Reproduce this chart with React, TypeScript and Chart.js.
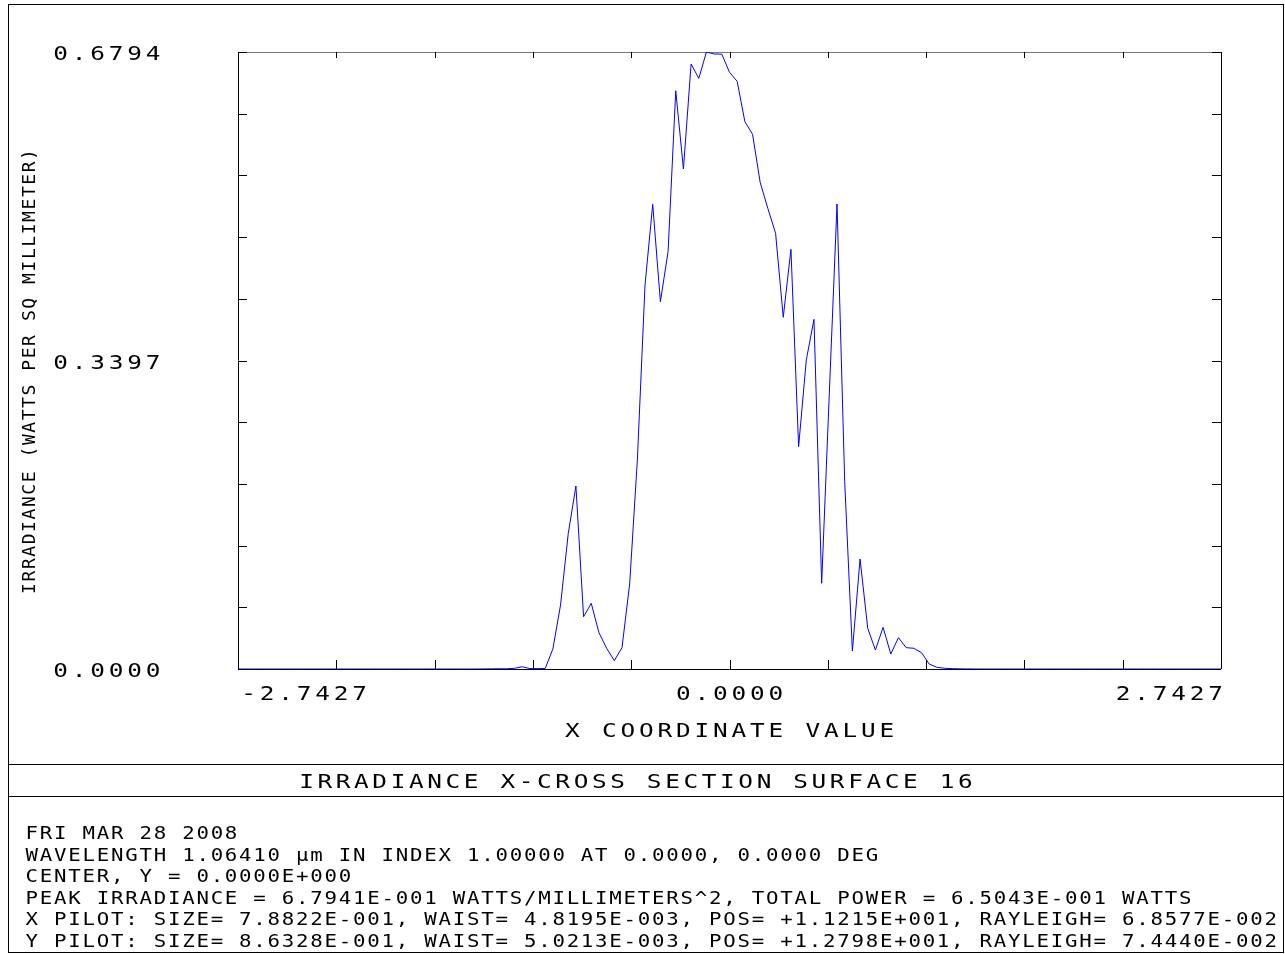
import { useEffect, useRef } from "react";
import { Chart, registerables } from "chart.js";

Chart.register(...registerables);

// X extent of the cross section (mm) and peak irradiance (W/mm^2)
const X_MIN = -2.7427;
const X_MAX = 2.7427;
const Y_MAX = 0.6794;
const DIVISIONS = 10;

// Irradiance samples across the section, 129 evenly spaced points from X_MIN to X_MAX
const irradiance: number[] = [
  0, 0, 0, 0, 0, 0, 0, 0, 0, 0, 0, 0, 0, 0, 0, 0,
  0, 0, 0, 0, 0, 0, 0, 0, 0, 0, 0, 0, 0, 0, 0, 0,
  0.0001, 0.0002, 0.0003, 0.0002, 0.0008, 0.0025, 0.0005, 0.0004,
  0.0006, 0.022, 0.0705, 0.149, 0.2015, 0.0576, 0.0723, 0.04,
  0.0228, 0.0092, 0.0235, 0.0936, 0.23, 0.4228, 0.5117, 0.4045,
  0.4595, 0.6368, 0.5506, 0.6662, 0.6504, 0.6794, 0.6772, 0.677,
  0.657, 0.6471, 0.6027, 0.5888, 0.5355, 0.507, 0.4798, 0.3873,
  0.4621, 0.2448, 0.3403, 0.385, 0.0944, 0.304, 0.512, 0.2063,
  0.0198, 0.1211, 0.0448, 0.0209, 0.0459, 0.0165, 0.0345, 0.0235,
  0.0228, 0.018, 0.0055, 0.0019, 0.0008, 0.0004, 0.0002, 0.0001,
  0, 0, 0, 0, 0, 0, 0, 0, 0, 0, 0, 0, 0, 0, 0, 0,
  0, 0, 0, 0, 0, 0, 0, 0, 0, 0, 0, 0, 0, 0, 0, 0,
  0,
];

const yTickValues = [0, 0.3397, 0.6794];
const yTickLabels = ["0.0000", "0.3397", "0.6794"];
const xTickValues = [-2.7427, 0, 2.7427];
const xTickLabels = ["-2.7427", "0.0000", "2.7427"];

const yAxisTitle = "IRRADIANCE (WATTS PER SQ MILLIMETER)";
const xAxisTitle = "X COORDINATE VALUE";
const plotTitle = "IRRADIANCE X-CROSS SECTION SURFACE 16";
const infoLines = [
  "FRI MAR 28 2008",
  "WAVELENGTH 1.06410 \u03bcm IN INDEX 1.00000 AT 0.0000, 0.0000 DEG",
  "CENTER, Y = 0.0000E+000",
  "PEAK IRRADIANCE = 6.7941E-001 WATTS/MILLIMETERS^2, TOTAL POWER = 6.5043E-001 WATTS",
  "X PILOT: SIZE= 7.8822E-001, WAIST= 4.8195E-003, POS= +1.1215E+001, RAYLEIGH= 6.8577E-002",
  "Y PILOT: SIZE= 8.6328E-001, WAIST= 5.0213E-003, POS= +1.2798E+001, RAYLEIGH= 7.4440E-002",
];

const W = 1285;
const H = 954;
const FONT_FAMILY = '"DejaVu Sans Mono", "Liberation Mono", monospace';

// Fixed-pitch text, one widened glyph per cell (plotter-style lettering)
function drawPitched(
  ctx: CanvasRenderingContext2D,
  text: string,
  x0: number,
  baseline: number,
  adv: number,
  glyphW: number,
  widen = 1.22
) {
  for (let i = 0; i < text.length; i++) {
    ctx.save();
    ctx.translate(x0 + i * adv + glyphW / 2, baseline);
    ctx.scale(widen, 1);
    ctx.fillText(text[i], 0, 0);
    ctx.restore();
  }
}
const pitchedWidth = (text: string, adv: number, glyphW: number) =>
  (text.length - 1) * adv + glyphW;

const framePlugin = {
  id: "plotterFrame",
  beforeDatasetsDraw(chart: any) {
    const ctx: CanvasRenderingContext2D = chart.ctx;
    const { left, top, right, bottom } = chart.chartArea;
    const xs = chart.scales.x;
    const ys = chart.scales.y;
    ctx.save();
    ctx.strokeStyle = "#000";
    ctx.lineWidth = 1;

    // outer sheet border and title band
    ctx.strokeRect(8.5, 4.5, 1275, 948);
    ctx.beginPath();
    ctx.moveTo(8, 764.5);
    ctx.lineTo(1284, 764.5);
    ctx.moveTo(8, 796.5);
    ctx.lineTo(1284, 796.5);
    ctx.stroke();

    // plot box
    ctx.beginPath();
    ctx.moveTo(Math.round(left) + 0.5, top);
    ctx.lineTo(Math.round(left) + 0.5, bottom);
    ctx.moveTo(Math.round(right) + 0.5, top);
    ctx.lineTo(Math.round(right) + 0.5, bottom);
    ctx.moveTo(left, Math.round(bottom) + 0.5);
    ctx.lineTo(right, Math.round(bottom) + 0.5);
    ctx.stroke();
    ctx.strokeStyle = "#777";
    ctx.beginPath();
    ctx.moveTo(left, Math.round(top) + 0.5);
    ctx.lineTo(right, Math.round(top) + 0.5);
    ctx.stroke();

    // inward tick marks on all four sides
    ctx.strokeStyle = "#000";
    ctx.beginPath();
    for (let k = 0; k <= DIVISIONS; k++) {
      const py = Math.round(ys.getPixelForValue((Y_MAX * k) / DIVISIONS)) + 0.5;
      ctx.moveTo(left, py);
      ctx.lineTo(left + 9, py);
      ctx.moveTo(right - 9, py);
      ctx.lineTo(right, py);
      const px =
        Math.round(xs.getPixelForValue(X_MIN + ((X_MAX - X_MIN) * k) / DIVISIONS)) + 0.5;
      ctx.moveTo(px, bottom);
      ctx.lineTo(px, bottom - 9);
      ctx.moveTo(px, top);
      ctx.lineTo(px, top + 6);
    }
    ctx.stroke();
    ctx.restore();
  },
  afterDraw(chart: any) {
    const ctx: CanvasRenderingContext2D = chart.ctx;
    const xs = chart.scales.x;
    const ys = chart.scales.y;
    ctx.save();
    ctx.fillStyle = "#000";
    ctx.textAlign = "center";
    ctx.textBaseline = "alphabetic";

    const bigAdv = 18.5;
    const bigW = 11;
    ctx.font = `20px ${FONT_FAMILY}`;

    // y tick labels
    yTickValues.forEach((v, i) => {
      const py = ys.getPixelForValue(v);
      drawPitched(ctx, yTickLabels[i], 55, py + 8, bigAdv, bigW);
    });

    // x tick labels
    const xBase = 700;
    xTickValues.forEach((v, i) => {
      const px = xs.getPixelForValue(v);
      const label = xTickLabels[i];
      const w = pitchedWidth(label, bigAdv, bigW);
      let x0 = px - w / 2;
      if (i === 0) x0 = px + 5;
      if (i === xTickValues.length - 1) x0 = px - w;
      drawPitched(ctx, label, x0, xBase, bigAdv, bigW);
    });

    // x axis title
    const cx = xs.getPixelForValue(0);
    drawPitched(ctx, xAxisTitle, cx - pitchedWidth(xAxisTitle, bigAdv, bigW) / 2, 737, bigAdv, bigW);

    // plot title in the band
    drawPitched(ctx, plotTitle, 301, 788, 18.3, bigW);

    // y axis title, rotated
    ctx.save();
    ctx.font = `18px ${FONT_FAMILY}`;
    ctx.translate(28, 593);
    ctx.rotate(-Math.PI / 2);
    drawPitched(ctx, yAxisTitle, 0, 6.5, 12.4, 9, 1.0);
    ctx.restore();

    // run information block
    ctx.font = `17px ${FONT_FAMILY}`;
    infoLines.forEach((line, i) => {
      drawPitched(ctx, line, 27, 839 + i * 21.6, 14.24, 9.5);
    });

    ctx.restore();
  },
};

export default function App() {
  const canvasRef = useRef<HTMLCanvasElement | null>(null);

  useEffect(() => {
    const canvas = canvasRef.current;
    if (!canvas) return;
    const step = (X_MAX - X_MIN) / (irradiance.length - 1);
    const points = irradiance.map((v, i) => ({ x: X_MIN + i * step, y: v }));

    const chart = new Chart(canvas, {
      type: "line",
      data: {
        datasets: [
          {
            data: points,
            borderColor: "#0000ff",
            borderWidth: 1,
            pointRadius: 0,
            tension: 0,
            fill: false,
          },
        ],
      },
      options: {
        responsive: false,
        animation: false,
        events: [],
        layout: { padding: { left: 238, top: 52, right: 64, bottom: 285 } },
        scales: {
          x: { type: "linear", min: X_MIN, max: X_MAX, display: false },
          y: { type: "linear", min: 0, max: Y_MAX, display: false },
        },
        plugins: {
          legend: { display: false },
          tooltip: { enabled: false },
        },
      },
      plugins: [framePlugin],
    });
    return () => chart.destroy();
  }, []);

  return (
    <div style={{ position: "absolute", left: 0, top: 0, width: W, height: H, background: "#fff" }}>
      <canvas ref={canvasRef} width={W} height={H} style={{ display: "block" }} />
    </div>
  );
}
